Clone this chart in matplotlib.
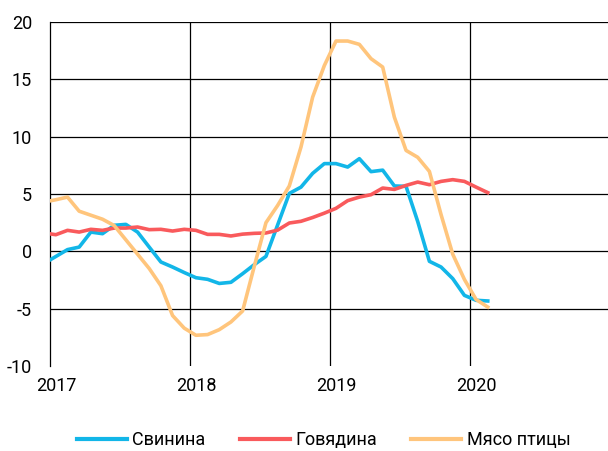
import numpy as np
import matplotlib
matplotlib.use("Agg")
import matplotlib.pyplot as plt
import matplotlib.transforms as mtransforms
from matplotlib import font_manager

# monthly values, Dec 2016 .. Feb 2020 (plotted mid-month)
pork = [-1.05, -0.45, 0.15, 0.37, 1.68, 1.54, 2.27, 2.35, 1.68, 0.37,
        -0.93, -1.37, -1.85, -2.3, -2.44, -2.8, -2.7, -1.95, -1.16, -0.44,
        2.3, 5.05, 5.6, 6.8, 7.65, 7.65, 7.35, 8.08, 6.95, 7.08,
        5.7, 5.67, 2.6, -0.87, -1.37, -2.38, -3.84, -4.27, -4.33]
beef = [1.6, 1.45, 1.83, 1.68, 1.92, 1.83, 2.03, 2.03, 2.12, 1.89,
        1.92, 1.77, 1.92, 1.83, 1.48, 1.48, 1.34, 1.5, 1.57, 1.6,
        1.85, 2.47, 2.62, 2.95, 3.33, 3.75, 4.42, 4.73, 4.94, 5.52,
        5.4, 5.75, 6.04, 5.81, 6.1, 6.25, 6.1, 5.6, 5.12]
poultry = [4.3, 4.5, 4.73, 3.5, 3.15, 2.8, 2.25, 1.0, -0.25, -1.5,
           -3.0, -5.6, -6.7, -7.32, -7.26, -6.83, -6.16, -5.2, -1.3, 2.5,
           4.0, 5.7, 9.1, 13.45, 16.2, 18.34, 18.34, 18.05, 16.8, 16.07,
           11.7, 8.8, 8.2, 6.97, 3.2, -0.25, -2.45, -4.2, -4.86]
labels = ["Свинина", "Говядина", "Мясо птицы"]
colors = ["#12B6E8", "#F95A5C", "#FFC57C"]
years = [2017, 2018, 2019, 2020]
yticks = [-10, -5, 0, 5, 10, 15, 20]

x = 2017 + (np.arange(len(pork)) - 0.5) / 12

installed = {f.name for f in font_manager.fontManager.ttflist}
if "Liberation Sans Narrow" in installed:
    plt.rcParams["font.family"] = "Liberation Sans Narrow"
    fs = 14
else:
    plt.rcParams["font.family"] = "Roboto"
    fs = 13
plt.rcParams["axes.unicode_minus"] = False

fig = plt.figure(figsize=(6.08, 4.51), dpi=100)
ax = fig.add_axes([50 / 608, 1 - 366 / 451, 1 - 50 / 608, (366 - 22) / 451])

for y, lab, c in zip([pork, beef, poultry], labels, colors):
    ax.plot(x, y, color=c, lw=2.6, label=lab, solid_joinstyle="round", zorder=3)

ax.set_xlim(2017, 2017 + 47.8 / 12)
ax.set_ylim(-10, 20)
ax.set_xticks(years)
ax.set_yticks(yticks)
ax.set_xticklabels([str(v) for v in years])
ax.tick_params(length=0, labelsize=fs, colors="black")
ax.tick_params(axis="y", pad=13)
ax.tick_params(axis="x", pad=8)
for lab in ax.get_xticklabels():
    lab.set_transform(lab.get_transform() + mtransforms.ScaledTranslation(6 / 100, 0, fig.dpi_scale_trans))

for v in yticks[1:]:
    ax.axhline(v, color="black", lw=0.9, zorder=1)
for v in years[1:]:
    ax.axvline(v, color="black", lw=0.9, zorder=1)
for s in ["top", "right", "bottom"]:
    ax.spines[s].set_visible(False)
ax.spines["left"].set_linewidth(0.9)

fig.legend(loc="center", bbox_to_anchor=(0.532, 1 - 440 / 451), ncol=3, frameon=False,
           fontsize=fs, handlelength=50 / (fs * 100 / 72), handletextpad=0.3,
           columnspacing=1.9)
for line in fig.legends[0].get_lines():
    line.set_linewidth(3)

fig.savefig("out.png", dpi=100)
